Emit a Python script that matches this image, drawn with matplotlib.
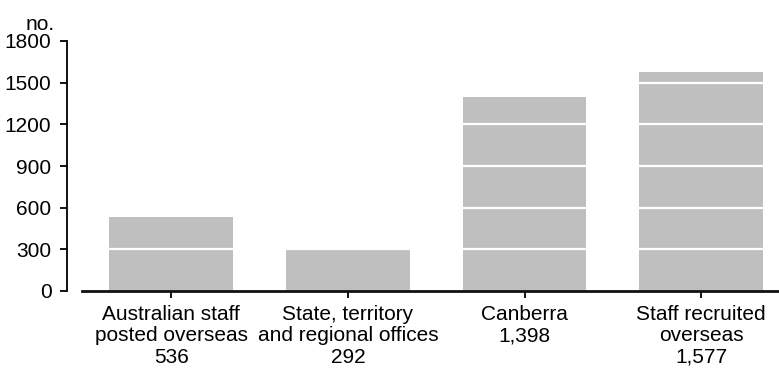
import matplotlib.pyplot as plt

categories = ['Australian staff\nposted overseas', 'State, territory\nand regional offices',
              'Canberra', 'Staff recruited\noverseas']
values = [536, 292, 1398, 1577]
value_labels = ['536', '292', '1,398', '1,577']
y_ticks = [0, 300, 600, 900, 1200, 1500, 1800]

plt.rcParams['font.family'] = ['Liberation Sans', 'DejaVu Sans']
plt.rcParams['font.size'] = 15

fig = plt.figure(figsize=(7.79, 3.68), dpi=100)
ax = fig.add_axes([82 / 779, 77 / 368, 697 / 779, 250 / 368])

x = range(len(categories))
ax.bar(x, values, width=0.70, color='#bfbfbf', zorder=2)

# white gridlines only show over the bars
for t in y_ticks[1:-1]:
    ax.axhline(t, color='white', linewidth=1.6, zorder=3)

ax.set_xlim(-0.505, 3.44)
ax.set_ylim(0, 1800)
ax.set_yticks(y_ticks)
ax.set_yticklabels([str(t) for t in y_ticks])

ax.set_xticks(list(x))
ax.set_xticklabels([c + '\n' + v for c, v in zip(categories, value_labels)],
                   linespacing=1.17)

ax.spines['top'].set_visible(False)
ax.spines['right'].set_visible(False)
ax.spines['left'].set_position(('outward', 11))
ax.spines['left'].set_bounds(0, 1800)
ax.spines['left'].set_linewidth(1.3)
ax.spines['bottom'].set_linewidth(2.0)
ax.spines['bottom'].set_color('#111111')

ax.tick_params(axis='y', direction='out', length=5, width=1.3, pad=6)
ax.tick_params(axis='x', direction='out', length=5, width=1.3, pad=5)

ax.text(-0.060, 1.03, 'no.', transform=ax.transAxes, ha='center', va='bottom')

fig.savefig('out.png', dpi=100)
